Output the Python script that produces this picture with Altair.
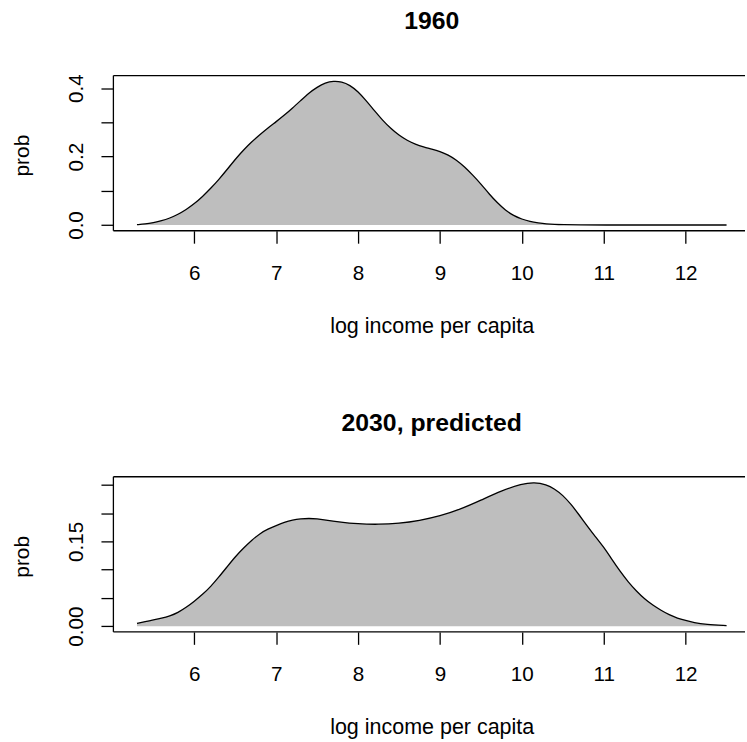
import altair as alt
import pandas as pd

FONT = "Liberation Sans"

# ---- data ----
x_1960 = [5.3, 5.4, 5.5, 5.6, 5.7, 5.8, 5.9, 6.0, 6.1, 6.2, 6.3, 6.4, 6.5, 6.6,
          6.7, 6.8, 6.9, 7.0, 7.1, 7.2, 7.3, 7.4, 7.5, 7.6, 7.7, 7.8, 7.9, 8.0,
          8.1, 8.2, 8.3, 8.4, 8.5, 8.6, 8.7, 8.8, 8.9, 9.0, 9.1, 9.2, 9.3, 9.4,
          9.5, 9.6, 9.7, 9.8, 9.9, 10.0, 10.1, 10.2, 10.3, 10.4, 10.5, 10.7,
          11.0, 11.5, 12.0, 12.5]
p_1960 = [0.001, 0.003, 0.007, 0.012, 0.02, 0.031, 0.045, 0.062, 0.083, 0.107,
          0.133, 0.162, 0.192, 0.219, 0.243, 0.264, 0.284, 0.302, 0.321, 0.342,
          0.364, 0.386, 0.403, 0.416, 0.421, 0.419, 0.409, 0.39, 0.363, 0.334,
          0.306, 0.282, 0.262, 0.247, 0.236, 0.228, 0.222, 0.215, 0.205, 0.19,
          0.17, 0.146, 0.12, 0.091, 0.065, 0.043, 0.027, 0.017, 0.010, 0.006,
          0.003, 0.0015, 0.001, 0.0003, 0.0, 0.0, 0.0, 0.0]

x_2030 = [5.3, 5.4, 5.5, 5.6, 5.7, 5.8, 5.9, 6.0, 6.1, 6.2, 6.3, 6.4, 6.5, 6.6,
          6.7, 6.8, 6.9, 7.0, 7.1, 7.2, 7.3, 7.4, 7.5, 7.6, 7.75, 8.0, 8.25,
          8.5, 8.75, 9.0, 9.25, 9.5, 9.75, 10.0, 10.15, 10.3, 10.4, 10.5, 10.6,
          10.7, 10.8, 10.9, 11.0, 11.1, 11.2, 11.3, 11.4, 11.5, 11.6, 11.7,
          11.8, 11.9, 12.0, 12.1, 12.25, 12.5]
p_2030 = [0.005, 0.008, 0.011, 0.014, 0.018, 0.024, 0.033, 0.044, 0.056, 0.07,
          0.087, 0.105, 0.123, 0.138, 0.152, 0.164, 0.172, 0.178, 0.184, 0.188,
          0.19, 0.191, 0.19, 0.188, 0.185, 0.181, 0.18, 0.182, 0.187, 0.195,
          0.207, 0.223, 0.24, 0.252, 0.255, 0.251, 0.243, 0.232, 0.216, 0.197,
          0.177, 0.158, 0.14, 0.118, 0.097, 0.078, 0.062, 0.048, 0.037, 0.028,
          0.02, 0.014, 0.01, 0.006, 0.003, 0.001]

x_ticks = [6, 7, 8, 9, 10, 11, 12]
y_ticks_1960 = [0, 0.1, 0.2, 0.3, 0.4]
y_labels_1960 = [0, 0.2, 0.4]
y_ticks_2030 = [0, 0.05, 0.1, 0.15, 0.2, 0.25]
y_labels_2030 = [0, 0.15]

titles = ["1960", "2030, predicted"]
x_title = "log income per capita"
y_title = "prob"

W = 633
H = 156
X_DOMAIN = [5.012, 12.701]
LW = 1.3


def label_expr(shown, fmt):
    cond = " || ".join(f"abs(datum.value - {v}) < 1e-9" for v in shown)
    return f"({cond}) ? format(datum.value, '{fmt}') : ''"


def panel(xs, ps, title, yticks, ylabels, yfmt, ydomain):
    df = pd.DataFrame({"x": xs, "p": ps})
    xscale = alt.Scale(domain=X_DOMAIN, nice=False, zero=False)
    yscale = alt.Scale(domain=ydomain, nice=False, zero=False)
    xaxis = alt.Axis(
        values=x_ticks, tickCount=50, format="d", title=x_title, domain=False,
        grid=False, tickSize=12.5, tickColor="black", tickWidth=LW,
        labelFont=FONT, labelFontSize=20.75, labelColor="black",
        labelBaseline="alphabetic", labelAlign="center", labelPadding=36.5,
        labelFlush=False, labelOverlap=False,
        titleFont=FONT, titleFontSize=21.6, titleFontWeight="normal",
        titleColor="black", titleBaseline="alphabetic", titleAlign="center",
        titleX=320, titleY=102.5,
    )
    yaxis = alt.Axis(
        values=yticks, tickCount=50, title=y_title, domain=False, grid=False,
        tickSize=12.5, tickColor="black", tickWidth=LW,
        labelFont=FONT, labelFontSize=20.75, labelColor="black",
        labelAngle=270, labelAlign="center", labelBaseline="alphabetic",
        labelPadding=18.8, labelFlush=False, labelOverlap=False,
        labelExpr=label_expr(ylabels, yfmt),
        titleFont=FONT, titleFontSize=21, titleFontWeight="normal",
        titleColor="black", titleAngle=270, titleAlign="center",
        titleBaseline="alphabetic", titleX=-85.7, titleY=H / 2 + 2,
    )
    base = alt.Chart(df)
    area = base.mark_area(color="#BEBEBE", interpolate="basis").encode(
        x=alt.X("x:Q", scale=xscale, axis=xaxis),
        y=alt.Y("p:Q", scale=yscale, axis=yaxis),
        y2=alt.datum(0),
    )
    line = base.mark_line(color="black", strokeWidth=LW, interpolate="basis").encode(
        x=alt.X("x:Q", scale=xscale),
        y=alt.Y("p:Q", scale=yscale),
    )
    one = alt.Data(values=[{}])
    top = alt.Chart(one).mark_rule(color="black", strokeWidth=LW).encode(
        x=alt.value(0), x2=alt.value(W + 2), y=alt.value(0))
    left = alt.Chart(one).mark_rule(color="black", strokeWidth=LW).encode(
        x=alt.value(0), y=alt.value(0), y2=alt.value(H))
    bottom = alt.Chart(one).mark_rule(color="black", strokeWidth=LW).encode(
        x=alt.value(0), x2=alt.value(W + 2), y=alt.value(H))
    return alt.layer(area, line, top, left, bottom).properties(
        width=W, height=H,
        title=alt.TitleParams(
            text=title, font=FONT, fontSize=24.9, fontWeight="bold",
            color="black", anchor="middle", frame="group", dx=3.5,
            baseline="alphabetic", offset=20,
        ),
    )


p1 = panel(x_1960, p_1960, titles[0], y_ticks_1960, y_labels_1960, ".1f",
           [-0.0168, 0.4368])
p2 = panel(x_2030, p_2030, titles[1], y_ticks_2030, y_labels_2030, ".2f",
           [-0.0102, 0.2646])

chart = alt.vconcat(p1, p2, spacing=247.3, bounds="flush").configure(
    padding={"left": 10, "top": 6, "right": 0, "bottom": 0},
    background="white",
).configure_view(stroke="transparent")

chart.save("out.html", embed_options={"renderer": "svg", "actions": False})
